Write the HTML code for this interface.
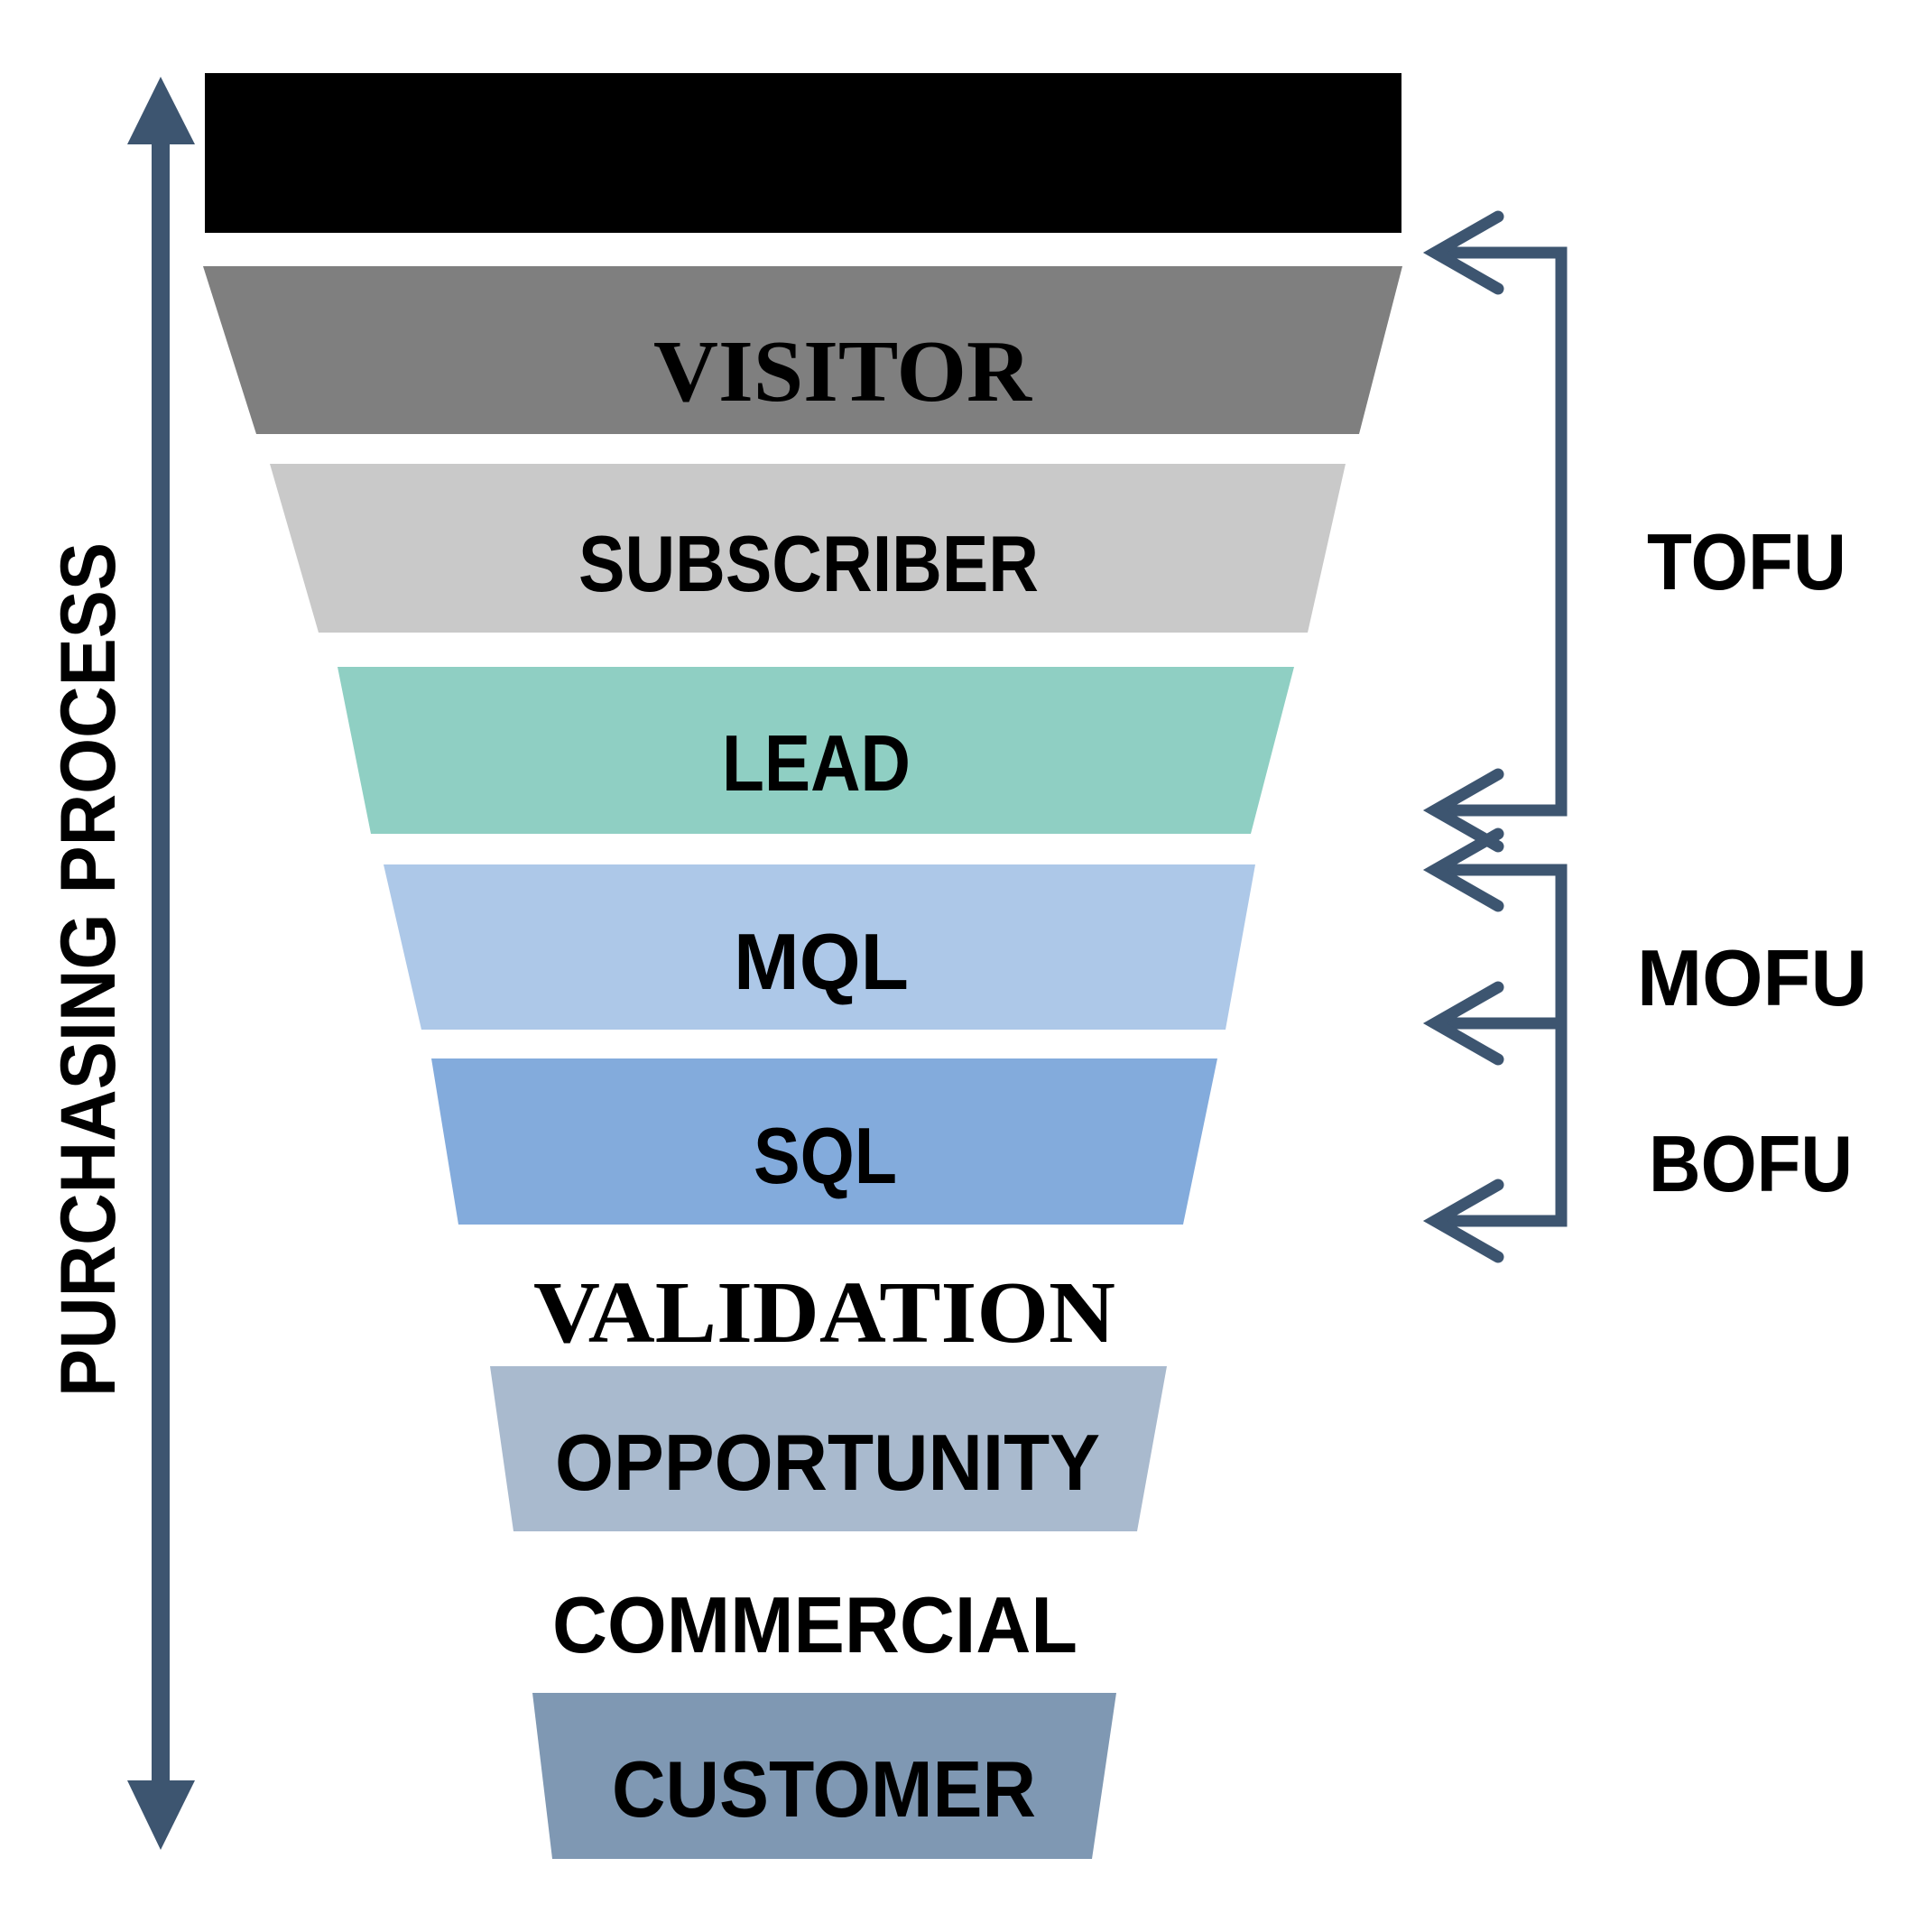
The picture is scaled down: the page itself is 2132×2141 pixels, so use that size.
<!DOCTYPE html>
<html><head><meta charset="utf-8"><style>html,body{margin:0;padding:0;background:#fff}svg{display:block}</style></head>
<body>
<svg width="2132" height="2141" viewBox="0 0 2132 2141" xmlns="http://www.w3.org/2000/svg">
<rect x="227" y="81" width="1326" height="177" fill="#000"/>
<polygon points="225,295 1554,295 1506,481 284,481" fill="#7f7f7f"/>
<polygon points="299,514 1491,514 1449,701 353,701" fill="#c9c9c9"/>
<polygon points="374,739 1434,739 1386,924 411,924" fill="#8fcfc3"/>
<polygon points="425,958 1391,958 1358,1141 467,1141" fill="#adc8e8"/>
<polygon points="478,1173 1349,1173 1311,1357 508,1357" fill="#83abdc"/>
<polygon points="543,1514 1293,1514 1260,1697 569,1697" fill="#a9bace"/>
<polygon points="590,1876 1237,1876 1210,2060 612,2060" fill="#7f98b3"/>

<g font-family="Liberation Sans, sans-serif" font-weight="bold" fill="#000">
<text x="724" y="444" font-family="Liberation Serif, serif" font-size="98" textLength="419" lengthAdjust="spacingAndGlyphs">VISITOR</text>
<text x="641" y="655" font-size="88" textLength="510" lengthAdjust="spacingAndGlyphs">SUBSCRIBER</text>
<text x="800" y="876" font-size="88" textLength="209" lengthAdjust="spacingAndGlyphs">LEAD</text>
<text x="813" y="1096" font-size="88" textLength="194" lengthAdjust="spacingAndGlyphs">MQL</text>
<text x="835" y="1311" font-size="88" textLength="159" lengthAdjust="spacingAndGlyphs">SQL</text>
<text x="591" y="1487" font-family="Liberation Serif, serif" font-size="98" textLength="645" lengthAdjust="spacingAndGlyphs">VALIDATION</text>
<text x="615" y="1651" font-size="88" textLength="604" lengthAdjust="spacingAndGlyphs">OPPORTUNITY</text>
<text x="612" y="1831" font-size="88" textLength="582" lengthAdjust="spacingAndGlyphs">COMMERCIAL</text>
<text x="678" y="2013" font-size="88" textLength="470" lengthAdjust="spacingAndGlyphs">CUSTOMER</text>
<text x="1825" y="653" font-size="88" textLength="221" lengthAdjust="spacingAndGlyphs">TOFU</text>
<text x="1814" y="1114" font-size="88" textLength="255" lengthAdjust="spacingAndGlyphs">MOFU</text>
<text x="1827" y="1320" font-size="88" textLength="226" lengthAdjust="spacingAndGlyphs">BOFU</text>
<text transform="translate(127,1548) rotate(-90)" x="0" y="0" font-size="86" textLength="947" lengthAdjust="spacingAndGlyphs">PURCHASING PROCESS</text>
</g>

<g fill="#3d5570">
<rect x="168" y="150" width="20" height="1830"/>
<polygon points="178,85 216,160 141,160"/>
<polygon points="178,2050 216,1973 141,1973"/>
</g>
<g stroke="#3d5570" stroke-width="13" fill="none" stroke-linecap="round" stroke-linejoin="miter">
<polyline points="1600,280 1730,280 1730,898 1600,898" stroke-linecap="butt"/>
<polyline points="1660,240 1590,280 1660,320"/>
<polyline points="1660,858 1590,898 1660,938"/>
<polyline points="1600,964 1730,964 1730,1353 1600,1353" stroke-linecap="butt"/>
<line x1="1600" y1="1134" x2="1730" y2="1134" stroke-linecap="butt"/>
<polyline points="1660,924 1590,964 1660,1004"/>
<polyline points="1660,1094 1590,1134 1660,1174"/>
<polyline points="1660,1313 1590,1353 1660,1393"/>
</g>
</svg>
</body></html>
